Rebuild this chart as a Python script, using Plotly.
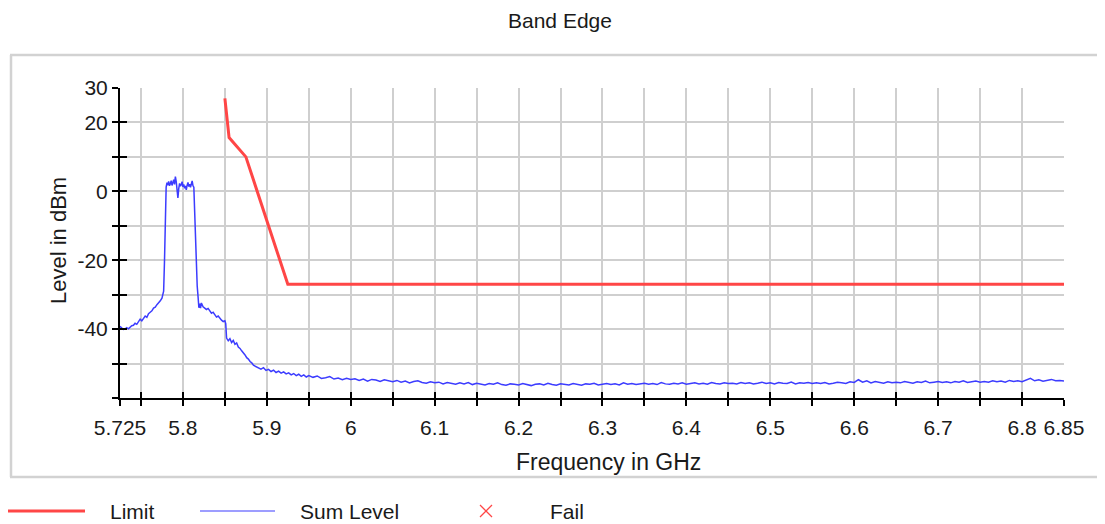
import plotly.graph_objects as go

# ---------------- data ----------------
limit_freq_ghz = [5.850, 5.855, 5.875, 5.925, 6.850]
limit_level_dbm = [27.0, 15.6, 10.0, -27.0, -27.0]

sum_freq_ghz = [
    5.725, 5.727, 5.729, 5.731, 5.733, 5.735, 5.737, 5.739, 5.741, 5.743,
    5.745, 5.747, 5.749, 5.751, 5.753, 5.755, 5.757, 5.759, 5.761, 5.763,
    5.765, 5.767, 5.769, 5.771, 5.773, 5.775, 5.777, 5.778, 5.779, 5.780,
    5.781, 5.782, 5.783, 5.784, 5.785, 5.786, 5.787, 5.788, 5.789, 5.790,
    5.791, 5.792, 5.793, 5.794, 5.795, 5.796, 5.797, 5.798, 5.799, 5.800,
    5.801, 5.802, 5.803, 5.804, 5.805, 5.806, 5.807, 5.808, 5.809, 5.810,
    5.811, 5.812, 5.813, 5.814, 5.815, 5.816, 5.817, 5.818, 5.819, 5.820,
    5.821, 5.822, 5.824, 5.826, 5.828, 5.830, 5.832, 5.834, 5.836, 5.838,
    5.840, 5.842, 5.844, 5.846, 5.848, 5.850, 5.851, 5.852, 5.854, 5.856,
    5.858, 5.860, 5.862, 5.864, 5.866, 5.868, 5.870, 5.872, 5.874, 5.876,
    5.878, 5.880, 5.882, 5.884, 5.886, 5.888, 5.890, 5.893, 5.896, 5.899,
    5.902, 5.905, 5.908, 5.911, 5.914, 5.917, 5.920, 5.923, 5.926, 5.929,
    5.932, 5.935, 5.938, 5.941, 5.944, 5.947, 5.950,
    5.955, 5.960, 5.965, 5.970, 5.975, 5.980, 5.985, 5.990, 5.995, 6.000,
    6.005, 6.010, 6.015, 6.020, 6.025, 6.030, 6.035, 6.040, 6.045, 6.050,
    6.055, 6.060, 6.065, 6.070, 6.075, 6.080, 6.085, 6.090, 6.095, 6.100,
    6.105, 6.110, 6.115, 6.120, 6.125, 6.130, 6.135, 6.140, 6.145, 6.150,
    6.155, 6.160, 6.165, 6.170, 6.175, 6.180, 6.185, 6.190, 6.195, 6.200,
    6.205, 6.210, 6.215, 6.220, 6.225, 6.230, 6.235, 6.240, 6.245, 6.250,
    6.255, 6.260, 6.265, 6.270, 6.275, 6.280, 6.285, 6.290, 6.295, 6.300,
    6.305, 6.310, 6.315, 6.320, 6.325, 6.330, 6.335, 6.340, 6.345, 6.350,
    6.355, 6.360, 6.365, 6.370, 6.375, 6.380, 6.385, 6.390, 6.395, 6.400,
    6.405, 6.410, 6.415, 6.420, 6.425, 6.430, 6.435, 6.440, 6.445, 6.450,
    6.455, 6.460, 6.465, 6.470, 6.475, 6.480, 6.485, 6.490, 6.495, 6.500,
    6.505, 6.510, 6.515, 6.520, 6.525, 6.530, 6.535, 6.540, 6.545, 6.550,
    6.555, 6.560, 6.565, 6.570, 6.575, 6.580, 6.585, 6.590, 6.595, 6.600,
    6.605, 6.610, 6.615, 6.620, 6.625, 6.630, 6.635, 6.640, 6.645, 6.650,
    6.655, 6.660, 6.665, 6.670, 6.675, 6.680, 6.685, 6.690, 6.695, 6.700,
    6.705, 6.710, 6.715, 6.720, 6.725, 6.730, 6.735, 6.740, 6.745, 6.750,
    6.755, 6.760, 6.765, 6.770, 6.775, 6.780, 6.785, 6.790, 6.795, 6.800,
    6.805, 6.810, 6.815, 6.820, 6.825, 6.830, 6.835, 6.840, 6.845, 6.850,
]

sum_level_dbm = [
    -39.2, -39.8, -40.1, -40.0, -39.6, -39.9, -39.3, -39.0, -38.9, -38.3,
    -38.6, -37.9, -37.1, -37.6, -36.7, -36.2, -36.6, -35.5, -35.1, -34.7,
    -33.9, -33.6, -32.9, -32.4, -31.8, -31.0, -29.0, -20.5, -5.0, 1.2,
    2.5, 1.8, 2.9, 1.6, 2.2, 3.1, 1.7, 2.6, 3.4, 2.0,
    4.3, 2.8, 0.9, -1.9, 0.8, 2.3, 1.5, 1.9, 2.8, 1.3,
    2.0, 0.9, 1.6, 0.4, 1.7, 2.6, 1.4, 2.1, 1.2, 2.4,
    3.0, 1.6, 1.2, -6.0, -15.0, -22.0, -27.5, -30.5, -33.8, -32.6,
    -33.9, -32.4, -33.5, -33.9, -34.3, -34.0, -34.8, -35.4, -35.1, -35.8,
    -36.5, -36.2, -37.0, -37.4, -37.8, -37.6, -38.4, -42.6, -43.4, -42.8,
    -43.9, -43.3, -44.4, -44.0, -45.2, -45.6, -46.3, -46.8, -47.5, -48.3,
    -48.7, -49.4, -49.8, -50.5, -50.7, -51.0, -51.3, -51.6, -51.2, -52.0,
    -51.7, -52.3, -51.9, -52.6, -52.2, -52.8, -52.4, -53.0, -52.7, -53.3,
    -52.9, -53.5, -53.1, -53.7, -53.3, -53.9, -53.5,
    -54.0, -53.6, -54.3, -54.1, -53.8, -54.5, -54.2, -54.7, -54.3, -54.6,
    -54.4, -54.9, -54.5, -55.1, -54.6, -54.8, -55.2, -54.7, -55.0, -55.3,
    -54.9, -55.4, -55.1, -55.6, -55.2, -55.0, -55.5, -55.7, -55.3, -55.6,
    -55.4, -55.9, -55.5, -55.8, -56.0, -55.6, -55.9, -55.5, -56.1, -55.7,
    -55.9, -56.2, -55.8, -56.0, -55.6, -56.1, -56.3, -55.9, -56.0, -56.2,
    -55.8, -56.1, -56.4, -56.0, -55.9, -56.2, -55.7, -56.1, -56.3, -55.9,
    -56.0, -56.2, -55.8, -56.1, -56.3, -55.9, -56.0, -55.7, -56.2, -56.0,
    -55.8, -56.1, -55.9, -56.2, -55.6, -56.0, -55.8, -56.1, -55.9, -55.7,
    -56.0, -55.8, -56.1, -55.5, -55.9, -56.0, -55.7, -55.9, -55.6, -56.0,
    -55.8, -55.6, -55.9, -55.7, -56.0, -55.5, -55.8, -55.9, -55.6, -55.8,
    -55.7, -55.9, -55.5, -55.8, -55.6, -55.9, -55.7, -55.4, -55.8, -55.6,
    -55.9, -55.5, -55.7, -55.8, -55.4, -55.9, -55.6, -55.7, -55.5, -55.8,
    -55.6, -55.8, -55.5, -55.9, -55.7, -55.4, -55.6, -55.8, -55.3, -55.5,
    -54.7, -55.4, -55.0, -55.6, -55.2, -55.5, -55.7, -55.3, -55.6, -55.4,
    -55.6, -55.2, -55.5, -55.7, -55.3, -55.5, -55.1, -55.6, -55.4, -55.2,
    -55.5, -55.3, -55.6, -55.2, -55.4, -55.0, -55.5, -55.3, -55.1, -55.4,
    -55.2, -55.4, -55.0, -55.3, -55.1, -55.4, -54.9, -55.2, -55.0, -55.3,
    -54.8, -54.3, -55.0, -54.7, -55.1, -54.8, -54.6, -55.0, -54.9, -55.1,
]
assert len(sum_freq_ghz) == len(sum_level_dbm)

x_tick_vals = [5.725, 5.75, 5.8, 5.85, 5.9, 5.95, 6.0, 6.05, 6.1, 6.15, 6.2, 6.25,
               6.3, 6.35, 6.4, 6.45, 6.5, 6.55, 6.6, 6.65, 6.7, 6.75, 6.8, 6.85]
x_tick_text = ["5.725", "", "5.8", "", "5.9", "", "6", "", "6.1", "", "6.2", "",
               "6.3", "", "6.4", "", "6.5", "", "6.6", "", "6.7", "", "6.8", "6.85"]
y_tick_vals = [-60, -50, -40, -30, -20, -10, 0, 10, 20, 30]
y_tick_text = ["", "", "-40", "", "-20", "", "0", "", "20", "30"]

# ---------------- layout geometry ----------------
# The page body has an 8 px margin, so the figure is drawn 8 px smaller and
# every position below is given in page pixels of the reference.
OFF = 8
W, H = 1105 - OFF, 524 - OFF
ML, MT = 120 - OFF, 88 - OFF
MR = W - (1064 - OFF)
MB = H - (398 - OFF)
PW, PH = W - ML - MR, H - MT - MB

def px(x):
    return (x - OFF - ML) / PW

def py(y):
    return (H - MB - (y - OFF)) / PH

FONT = "Liberation Sans, Arial, sans-serif"
TXT = "#1a1a1a"
RED = "#ff4646"
BLUE = "#3c3cff"

fig = go.Figure()
fig.add_trace(go.Scatter(x=limit_freq_ghz, y=limit_level_dbm, mode="lines", name="Limit",
                         line=dict(color=RED, width=3)))
fig.add_trace(go.Scatter(x=sum_freq_ghz, y=sum_level_dbm, mode="lines", name="Sum Level",
                         line=dict(color=BLUE, width=1.5)))
fig.add_trace(go.Scatter(x=[], y=[], mode="markers", name="Fail", xaxis="x2", yaxis="y2",
                         marker=dict(color=RED, symbol="x-thin", size=12)))

axis_common = dict(showline=True, linecolor="black", linewidth=2, zeroline=False,
                   ticks="outside", ticklen=6, tickwidth=2, tickcolor="black",
                   tickfont=dict(family=FONT, size=21, color=TXT),
                   showgrid=True, gridcolor="#cfcfcf", gridwidth=2)

fig.update_layout(
    width=W, height=H,
    margin=dict(l=ML, r=MR, t=MT, b=MB),
    paper_bgcolor="white", plot_bgcolor="white",
    showlegend=False,
    xaxis=dict(range=[5.725, 6.85], tickmode="array", tickvals=x_tick_vals,
               ticktext=x_tick_text, ticklabelstandoff=4, **axis_common),
    yaxis=dict(range=[-60, 30], tickmode="array", tickvals=y_tick_vals,
               ticktext=y_tick_text, **axis_common),
    xaxis2=dict(range=[5.725, 6.85], overlaying="x", side="bottom", tickmode="array",
                tickvals=x_tick_vals, showticklabels=False, ticks="inside", ticklen=6,
                tickwidth=2, tickcolor="black", showgrid=False, zeroline=False,
                showline=False),
    yaxis2=dict(range=[-60, 30], overlaying="y", side="left", tickmode="array",
                tickvals=y_tick_vals, showticklabels=False, ticks="inside", ticklen=7,
                tickwidth=2, tickcolor="black", showgrid=False, zeroline=False,
                showline=False),
)

shapes = []
frame = "#d2d2d2"
shapes.append(dict(type="line", xref="paper", yref="paper", x0=px(10), x1=px(1105),
                   y0=py(55), y1=py(55), line=dict(color=frame, width=2.5)))
shapes.append(dict(type="line", xref="paper", yref="paper", x0=px(11), x1=px(11),
                   y0=py(55), y1=py(477), line=dict(color=frame, width=2.5)))
shapes.append(dict(type="line", xref="paper", yref="paper", x0=px(10), x1=px(1105),
                   y0=py(477), y1=py(477), line=dict(color=frame, width=2.5)))
# legend samples
shapes.append(dict(type="line", xref="paper", yref="paper", x0=px(8), x1=px(85),
                   y0=py(511), y1=py(511), line=dict(color=RED, width=3)))
shapes.append(dict(type="line", xref="paper", yref="paper", x0=px(200), x1=px(275),
                   y0=py(511), y1=py(511), line=dict(color=BLUE, width=1.2)))
shapes.append(dict(type="line", xref="paper", yref="paper", x0=px(480), x1=px(492),
                   y0=py(505), y1=py(517), line=dict(color=RED, width=1.3)))
shapes.append(dict(type="line", xref="paper", yref="paper", x0=px(480), x1=px(492),
                   y0=py(517), y1=py(505), line=dict(color=RED, width=1.3)))
fig.update_layout(shapes=shapes)

def label(text, x, y, xanchor="left", angle=0, size=21):
    fig.add_annotation(text=text, xref="paper", yref="paper", x=px(x), y=py(y),
                       xanchor=xanchor, yanchor="middle", showarrow=False,
                       textangle=angle, font=dict(family=FONT, size=size, color=TXT))

label("Band Edge", 560, 20, xanchor="center", size=21)
label("Frequency in GHz", 608, 462, xanchor="center", size=23)
label("Level in dBm", 58, 240, xanchor="center", angle=-90, size=22)
label("Limit", 108, 511)
label("Sum Level", 298, 511)
label("Fail", 548, 511)

fig.write_html("out.html")
